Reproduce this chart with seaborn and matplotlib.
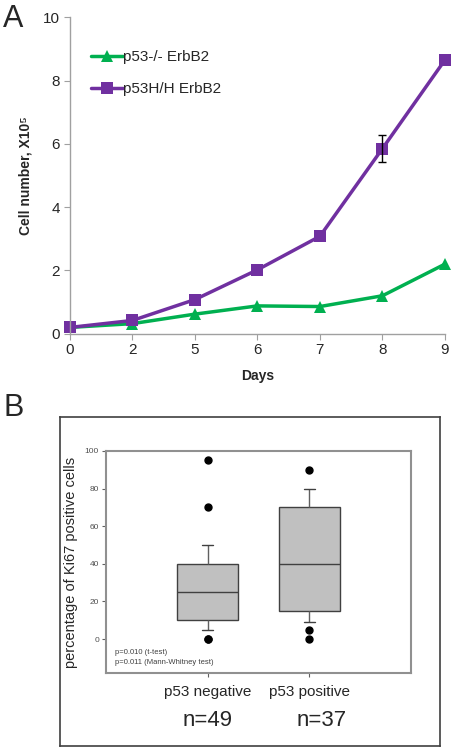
import numpy as np
import pandas as pd
import matplotlib
matplotlib.use("Agg")
import matplotlib.pyplot as plt
import seaborn as sns

# ---- panel A data: growth curves ----
days = ["0", "2", "5", "6", "7", "8", "9"]
p53_null = [0.2, 0.32, 0.62, 0.88, 0.86, 1.2, 2.2]
p53_hh = [0.2, 0.42, 1.08, 2.02, 3.08, 5.85, 8.65]
hh_err_day = "8"
hh_err = 0.42

# ---- panel B data: Ki67 % per tumour (values chosen to give box stats) ----
ki67_neg = [0, 0, 5, 8, 10, 10, 12, 15, 18, 20, 25, 28, 30, 32, 35, 40, 42, 45, 50, 70, 95]
ki67_pos = [0, 5, 9, 12, 14, 15, 20, 25, 30, 35, 40, 45, 50, 55, 60, 70, 72, 75, 80, 80, 90]
groups = ["p53 negative", "p53 positive"]
n_labels = ["n=49", "n=37"]

sns.set_style("white")
plt.rcParams["font.family"] = ["Liberation Sans", "DejaVu Sans"]

fig = plt.figure(figsize=(4.54, 7.5), dpi=100)

# ======================= A =======================
axA = fig.add_axes([0.154, 0.555, 0.826, 0.422])
df_a = pd.DataFrame({
    "x": list(range(len(days))) * 2,
    "val": p53_null + p53_hh,
    "line": ["p53-/- ErbB2"] * len(days) + ["p53H/H ErbB2"] * len(days),
})
pal = {"p53-/- ErbB2": "#00b050", "p53H/H ErbB2": "#7030a0"}
sns.lineplot(data=df_a, x="x", y="val", hue="line", style="line", palette=pal,
             markers={"p53-/- ErbB2": "^", "p53H/H ErbB2": "s"}, dashes=False,
             markersize=9, markeredgewidth=0, linewidth=2.5, ax=axA, clip_on=False)
i = days.index(hh_err_day)
axA.errorbar(i, p53_hh[i], yerr=hh_err, fmt="none", ecolor="black",
             elinewidth=1, capsize=3, zorder=5)

axA.set_xlim(0, len(days) - 1)
axA.set_ylim(0, 10)
axA.set_yticks(range(0, 11, 2))
axA.set_xticks(range(len(days)))
axA.set_xticklabels(days)
axA.tick_params(labelsize=11, length=4, color="#a0a0a0", left=True, bottom=True, pad=3)
for s in ["top", "right"]:
    axA.spines[s].set_visible(False)
for s in ["left", "bottom"]:
    axA.spines[s].set_color("#a0a0a0")
    axA.spines[s].set_linewidth(1)
axA.set_xlabel("Days", fontsize=10, fontweight="bold", labelpad=8)
axA.set_ylabel("Cell number, X10\u2075", fontsize=10, fontweight="bold", labelpad=8)
leg = axA.legend(loc="upper left", bbox_to_anchor=(0.02, 0.94), frameon=False,
                 fontsize=11, handlelength=2.1, handletextpad=0.0, labelspacing=1.2)

fig.text(0.03, 0.975, "A", fontsize=22, va="center", ha="center")

# ======================= B =======================
frame = fig.add_axes([0.132, 0.0053, 0.837, 0.4387])
frame.set_xticks([])
frame.set_yticks([])
for s in frame.spines.values():
    s.set_color("#404040")
    s.set_linewidth(1.2)

axB = fig.add_axes([0.2335, 0.1027, 0.6718, 0.296])
df_b = pd.DataFrame({
    "group": [groups[0]] * len(ki67_neg) + [groups[1]] * len(ki67_pos),
    "ki67": ki67_neg + ki67_pos,
})
sns.boxplot(data=df_b, x="group", y="ki67", order=groups, whis=(10, 90), width=0.6,
            color="#c0c0c0", saturation=1, linecolor="#404040", linewidth=1,
            flierprops=dict(marker="o", markerfacecolor="black", markeredgecolor="black",
                            markersize=5), ax=axB)
# shorter caps like the original
for ln in axB.lines:
    xd = np.asarray(ln.get_xdata(), dtype=float)
    yd = np.asarray(ln.get_ydata(), dtype=float)
    if len(xd) == 2 and yd[0] == yd[1] and abs(xd[1] - xd[0]) < 0.5:
        c = xd.mean()
        ln.set_xdata([c - 0.055, c + 0.055])
    if len(xd) == 2 and xd[0] == xd[1]:
        ln.set_color("#606060")

axB.set_xlim(-1, 2)
axB.set_ylim(-18, 100)
axB.set_yticks(range(0, 101, 20))
axB.tick_params(axis="y", labelsize=6, labelcolor="#505050", length=3, color="#606060",
                left=True, pad=2)
axB.tick_params(axis="x", labelsize=11, length=3, color="#606060", bottom=True, pad=6)
for s in axB.spines.values():
    s.set_color("#909090")
    s.set_linewidth(1.5)
axB.set_xlabel("")
axB.set_ylabel("percentage of Ki67 positive cells", fontsize=10.5)
axB.yaxis.set_label_coords(-0.092, 0.5)
axB.text(0.03, 0.09, "p=0.010 (t-test)", transform=axB.transAxes, fontsize=5.5,
         color="#404040", va="center")
axB.text(0.03, 0.045, "p=0.011 (Mann-Whitney test)", transform=axB.transAxes, fontsize=5.5,
         color="#404040", va="center")

for k, lab in enumerate(n_labels):
    xk = axB.transData.transform((k, 0))[0]
    xfig = fig.transFigure.inverted().transform((xk, 0))[0]
    if k == 1:
        xfig += 12 / 454
    fig.text(xfig, 1 - 720 / 750, lab, fontsize=16, ha="center", va="center")

fig.text(0.03, 1 - 408 / 750, "B", fontsize=22, va="center", ha="center")

fig.savefig("out.png", dpi=100)
